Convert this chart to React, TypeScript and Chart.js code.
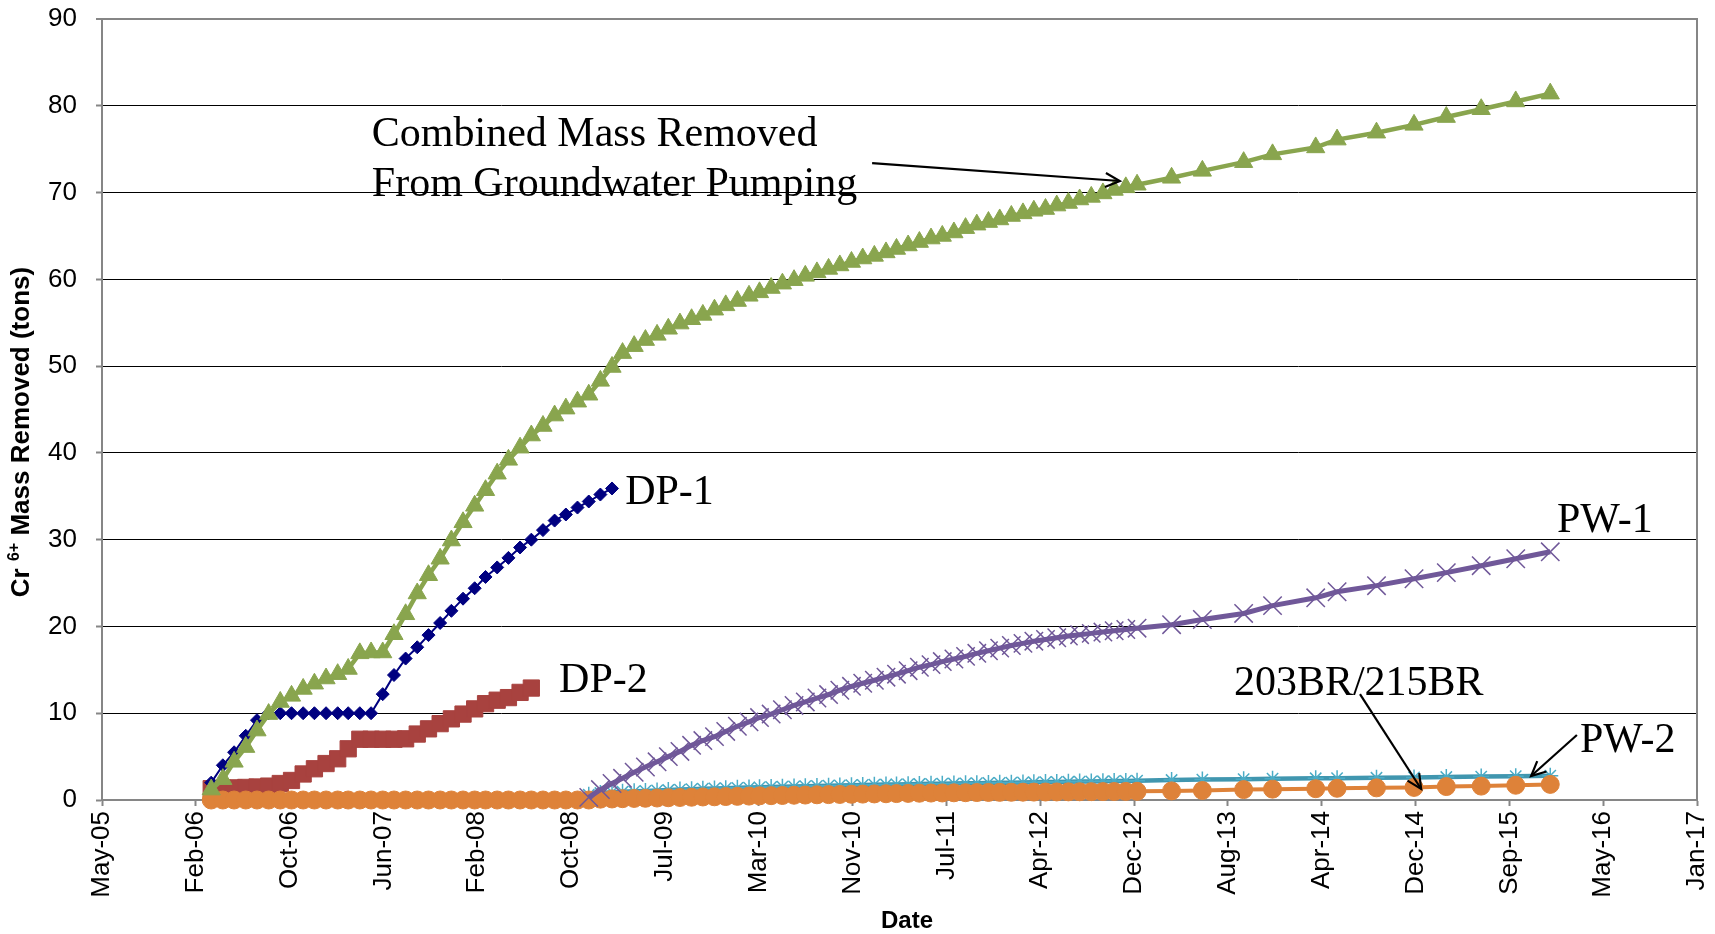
import React, { useEffect, useRef } from 'react';
import { Chart, registerables } from 'chart.js';

Chart.register(...registerables);

// ---------- axis definitions ----------
const X_TICK_LABELS = ['May-05', 'Feb-06', 'Oct-06', 'Jun-07', 'Feb-08', 'Oct-08', 'Jul-09', 'Mar-10', 'Nov-10', 'Jul-11', 'Apr-12', 'Dec-12', 'Aug-13', 'Apr-14', 'Dec-14', 'Sep-15', 'May-16', 'Jan-17'];
const X_MIN = 38500; // Excel date serial (28 May 2005)
const X_MAX = 42750;
const X_STEP = 250;
const Y_MIN = 0;
const Y_MAX = 90;
const Y_STEP = 10;

// ---------- dates (monthly readings are plotted mid-month) ----------
const MONTH_DAY = 15;
const MONTHS = [
  '2006-03', '2006-04', '2006-05', '2006-06', '2006-07', '2006-08', '2006-09', '2006-10', '2006-11', '2006-12',
  '2007-01', '2007-02', '2007-03', '2007-04', '2007-05', '2007-06', '2007-07', '2007-08', '2007-09', '2007-10', '2007-11', '2007-12',
  '2008-01', '2008-02', '2008-03', '2008-04', '2008-05', '2008-06', '2008-07', '2008-08', '2008-09', '2008-10', '2008-11', '2008-12',
  '2009-01', '2009-02', '2009-03', '2009-04', '2009-05', '2009-06', '2009-07', '2009-08', '2009-09', '2009-10', '2009-11', '2009-12',
  '2010-01', '2010-02', '2010-03', '2010-04', '2010-05', '2010-06', '2010-07', '2010-08', '2010-09', '2010-10', '2010-11', '2010-12',
  '2011-01', '2011-02', '2011-03', '2011-04', '2011-05', '2011-06', '2011-07', '2011-08', '2011-09', '2011-10', '2011-11', '2011-12',
  '2012-01', '2012-02', '2012-03', '2012-04', '2012-05', '2012-06', '2012-07', '2012-08', '2012-09', '2012-10', '2012-11', '2012-12',
];
const LATE_DATES = ['2013-03-17', '2013-06-07', '2013-09-25', '2013-12-11', '2014-04-05', '2014-06-01', '2014-09-14', '2014-12-23', '2015-03-19', '2015-06-20', '2015-09-20', '2015-12-21'];

// ---------- series values (tons) ----------
const DP1 = [2.0, 4.0, 5.5, 7.4, 9.2, 10.0, 10.0, 10.0, 10.0, 10.0, 10.0, 10.0, 10.0, 10.0, 10.0,
  12.2, 14.4, 16.3, 17.6, 19.0, 20.4, 21.8, 23.2, 24.4, 25.7, 26.8, 27.9, 29.1, 30.0, 31.1, 32.2, 32.9, 33.7, 34.4, 35.2, 35.9];

const DP2 = [1.3, 1.35, 1.4, 1.45, 1.5, 1.6, 1.9, 2.25, 3.0, 3.6, 4.2, 4.75, 5.9, 7.0, 7.0, 7.0, 7.0, 7.05,
  7.6, 8.2, 8.8, 9.35, 9.9, 10.5, 11.1, 11.5, 11.8, 12.4, 12.9];

const COMBINED = [
  1.2, 2.4, 4.4, 6.1, 8.0, 9.9, 11.3, 12.0, 12.8, 13.4,
  14.0, 14.5, 15.1, 16.9, 17.0, 17.0, 19.1, 21.4, 23.8, 25.9, 27.8, 29.9,
  32.0, 33.9, 35.7, 37.6, 39.2, 40.6, 42.0, 43.1, 44.3, 45.1, 45.9, 46.7,
  48.3, 49.9, 51.5, 52.3, 53.0, 53.6, 54.3, 54.9, 55.4, 55.9, 56.5, 57.0,
  57.5, 58.1, 58.5, 59.0, 59.5, 59.9, 60.4, 60.8, 61.2, 61.6, 62.0, 62.4,
  62.7, 63.1, 63.5, 63.9, 64.3, 64.7, 65.0, 65.4, 65.9, 66.3, 66.6, 66.9,
  67.3, 67.6, 67.9, 68.1, 68.5, 68.8, 69.2, 69.5, 69.9, 70.3, 70.6, 70.9,
];
const COMBINED_LATE = [71.7, 72.5, 73.5, 74.4, 75.2, 76.1, 76.9, 77.8, 78.7, 79.6, 80.5, 81.4];

const PW1_START = 33; // Dec-08
const PW1 = [
  0.3,
  1.2, 1.9, 2.5, 3.2, 3.8, 4.4, 5.0, 5.6, 6.3, 6.85, 7.3, 7.9,
  8.5, 9.0, 9.5, 9.9, 10.4, 10.9, 11.3, 11.75, 12.15, 12.65, 13.1, 13.45,
  13.8, 14.15, 14.5, 14.9, 15.3, 15.6, 15.95, 16.25, 16.55, 16.9, 17.2, 17.5,
  17.8, 18.05, 18.3, 18.5, 18.7, 18.9, 19.05, 19.2, 19.35, 19.5, 19.65, 19.8,
];
const PW1_LATE = [20.2, 20.8, 21.5, 22.4, 23.3, 24.0, 24.7, 25.5, 26.2, 27.0, 27.8, 28.6];

const PW2 = [
  0, 0, 0, 0, 0, 0, 0, 0, 0, 0,
  0, 0, 0, 0, 0, 0, 0, 0, 0, 0, 0, 0,
  0, 0, 0, 0, 0, 0, 0, 0, 0, 0, 0, 0.6,
  0.8, 0.9, 0.95, 1.0, 1.05, 1.1, 1.15, 1.2, 1.25, 1.3, 1.33, 1.36,
  1.4, 1.43, 1.46, 1.5, 1.53, 1.56, 1.59, 1.62, 1.65, 1.68, 1.71, 1.74,
  1.76, 1.78, 1.8, 1.82, 1.84, 1.86, 1.88, 1.9, 1.92, 1.94, 1.96, 1.98,
  2.0, 2.02, 2.04, 2.06, 2.08, 2.1, 2.12, 2.14, 2.16, 2.18, 2.2, 2.22,
];
const PW2_LATE = [2.3, 2.35, 2.4, 2.45, 2.5, 2.52, 2.56, 2.6, 2.65, 2.7, 2.75, 2.8];

const BR203 = [
  0, 0, 0, 0, 0, 0, 0, 0, 0, 0,
  0, 0, 0, 0, 0, 0, 0, 0, 0, 0, 0, 0,
  0, 0, 0, 0, 0, 0, 0, 0, 0, 0, 0, 0,
  0.1, 0.12, 0.15, 0.18, 0.2, 0.23, 0.26, 0.29, 0.32, 0.35, 0.37, 0.4,
  0.42, 0.45, 0.48, 0.5, 0.52, 0.55, 0.57, 0.6, 0.62, 0.64, 0.66, 0.68,
  0.7, 0.72, 0.74, 0.76, 0.78, 0.8, 0.81, 0.83, 0.84, 0.86, 0.87, 0.88,
  0.89, 0.9, 0.91, 0.92, 0.93, 0.94, 0.95, 0.96, 0.97, 0.98, 0.99, 1.0,
];
const BR203_LATE = [1.05, 1.1, 1.2, 1.25, 1.3, 1.35, 1.4, 1.45, 1.55, 1.6, 1.7, 1.8];

// ---------- annotations (in data units: x = Excel serial, y = tons) ----------
const LABELS = [
  { text: 'Combined Mass Removed', x: 39219, y: 75.36 },
  { text: 'From Groundwater Pumping', x: 39219, y: 69.6 },
  { text: 'DP-1', x: 39894, y: 34.1 },
  { text: 'DP-2', x: 39718, y: 12.45 },
  { text: 'PW-1', x: 42377, y: 30.88 },
  { text: '203BR/215BR', x: 41516, y: 12.1 },
  { text: 'PW-2', x: 42438, y: 5.53 },
];
const ARROWS = [
  { x1: 40552, y1: 73.4, x2: 41212, y2: 71.33 },
  { x1: 41852, y1: 12.21, x2: 42015, y2: 1.27 },
  { x1: 42430, y1: 7.49, x2: 42308, y2: 2.77 },
];

const SANS = '"Liberation Sans", Arial, sans-serif';
const SERIF = '"Liberation Serif", "Times New Roman", serif';
const AXIS_GRAY = '#868686';

function toSerial(s: string): number {
  const p = s.split('-').map(Number);
  return Date.UTC(p[0], p[1] - 1, p[2] || MONTH_DAY) / 86400000 + 25569;
}

function series(label: string, dates: string[], values: number[], color: string, style: any, radius: number, lineWidth: number, order: number, extra: any = {}) {
  return {
    label,
    data: dates.map((d, i) => ({ x: toSerial(d), y: values[i] })),
    borderColor: color,
    backgroundColor: color,
    borderWidth: lineWidth,
    pointStyle: style,
    pointRadius: radius,
    pointBackgroundColor: color,
    pointBorderColor: color,
    pointBorderWidth: 1,
    tension: 0,
    clip: false,
    order,
    ...extra,
  };
}

function drawArrow(ctx: CanvasRenderingContext2D, x1: number, y1: number, x2: number, y2: number) {
  ctx.beginPath();
  ctx.moveTo(x1, y1);
  ctx.lineTo(x2, y2);
  ctx.stroke();
  const ang = Math.atan2(y2 - y1, x2 - x1);
  const L = 16;
  const A = 0.45;
  ctx.beginPath();
  ctx.moveTo(x2 - L * Math.cos(ang - A), y2 - L * Math.sin(ang - A));
  ctx.lineTo(x2, y2);
  ctx.lineTo(x2 - L * Math.cos(ang + A), y2 - L * Math.sin(ang + A));
  ctx.stroke();
}

const decorPlugin = {
  id: 'decor',
  beforeDatasetsDraw(chart: any) {
    const { ctx, chartArea: a } = chart;
    ctx.save();
    ctx.strokeStyle = AXIS_GRAY;
    ctx.lineWidth = 2;
    ctx.beginPath();
    ctx.moveTo(a.left, a.top);
    ctx.lineTo(a.right, a.top);
    ctx.lineTo(a.right, a.bottom);
    ctx.stroke();
    ctx.restore();
  },
  afterDraw(chart: any) {
    const { ctx } = chart;
    const xs = chart.scales.x;
    const ys = chart.scales.y;
    ctx.save();
    ctx.fillStyle = '#000';
    ctx.strokeStyle = '#000';
    ctx.font = `42px ${SERIF}`;
    ctx.textAlign = 'left';
    ctx.textBaseline = 'alphabetic';
    LABELS.forEach((l) => {
      ctx.fillText(l.text, xs.getPixelForValue(l.x), ys.getPixelForValue(l.y));
    });
    ctx.lineWidth = 2.2;
    ARROWS.forEach((a) => {
      drawArrow(ctx, xs.getPixelForValue(a.x1), ys.getPixelForValue(a.y1), xs.getPixelForValue(a.x2), ys.getPixelForValue(a.y2));
    });
    ctx.font = `bold 24px ${SANS}`;
    ctx.textAlign = 'center';
    ctx.textBaseline = 'middle';
    ctx.fillText('Date', 907, 921);
    ctx.translate(22, 432);
    ctx.rotate(-Math.PI / 2);
    ctx.textAlign = 'left';
    ctx.textBaseline = 'middle';
    const parts = [
      { t: 'Cr ', f: `bold 26px ${SANS}`, dy: 0, w: 0 },
      { t: '6+', f: `bold 16px ${SANS}`, dy: -7, w: 0 },
      { t: ' Mass Removed (tons)', f: `bold 26px ${SANS}`, dy: 0, w: 0 },
    ];
    let total = 0;
    parts.forEach((p) => { ctx.font = p.f; p.w = ctx.measureText(p.t).width; total += p.w; });
    let x = -total / 2;
    parts.forEach((p) => { ctx.font = p.f; ctx.fillText(p.t, x, p.dy); x += p.w; });
    ctx.restore();
  },
};

export default function App() {
  const ref = useRef<HTMLCanvasElement>(null);
  useEffect(() => {
    document.body.style.margin = '0';
    const allDates = MONTHS.concat(LATE_DATES);
    const datasets: any[] = [
      series('Combined Mass Removed', allDates, COMBINED.concat(COMBINED_LATE), '#89A54E', 'triangle', 10.5, 4.5, 0),
      series('PW-1', MONTHS.slice(PW1_START).concat(LATE_DATES), PW1.concat(PW1_LATE), '#705899', 'crossRot', 13, 5, 1, { pointBorderWidth: 1.5 }),
      series('203BR/215BR', allDates, BR203.concat(BR203_LATE), '#DE8239', 'circle', 9, 4, 2),
      series('PW-2', allDates, PW2.concat(PW2_LATE), '#4096AF', 'star', 8, 4.5, 3, { pointBorderColor: '#4BACC6', pointBackgroundColor: '#4BACC6', pointBorderWidth: 1.5 }),
      series('DP-1', MONTHS.slice(0, DP1.length), DP1, '#000080', 'rectRot', 6.5, 2, 4),
      series('DP-2', MONTHS.slice(0, DP2.length), DP2, '#A8423F', 'rect', 11.5, 3, 5),
    ];
    const tickFont = { family: SANS, size: 26 };
    const chart = new Chart(ref.current as HTMLCanvasElement, {
      type: 'line',
      data: { datasets },
      options: {
        responsive: false,
        devicePixelRatio: 1,
        animation: false,
        events: [],
        layout: { padding: { top: 19, right: 18, left: 0, bottom: 0 } },
        plugins: { legend: { display: false }, tooltip: { enabled: false } },
        scales: {
          x: {
            type: 'linear',
            min: X_MIN,
            max: X_MAX,
            afterFit: (s: any) => { s.height = 134; s.paddingLeft = 0; s.paddingRight = 0; },
            ticks: {
              stepSize: X_STEP,
              autoSkip: false,
              maxRotation: 90,
              minRotation: 90,
              padding: 5,
              color: '#000',
              font: tickFont,
              callback: (_v: any, i: number) => X_TICK_LABELS[i] ?? '',
            },
            grid: { drawOnChartArea: false, drawTicks: true, tickLength: 6, tickColor: AXIS_GRAY, tickWidth: 2 },
            border: { color: AXIS_GRAY, width: 2 },
          },
          y: {
            min: Y_MIN,
            max: Y_MAX,
            afterFit: (s: any) => { s.width = 102; s.paddingTop = 0; s.paddingBottom = 0; },
            ticks: { stepSize: Y_STEP, padding: 19, color: '#000', font: tickFont },
            grid: {
              color: (c: any) => (c.tick && c.tick.value === 0 ? 'rgba(0,0,0,0)' : c.tick && c.tick.value === Y_MAX ? AXIS_GRAY : '#000'),
              lineWidth: (c: any) => (c.tick && c.tick.value === Y_MAX ? 2 : 1),
              tickLength: 6,
              tickColor: AXIS_GRAY,
              tickWidth: 2,
            },
            border: { color: AXIS_GRAY, width: 2 },
          },
        },
      },
      plugins: [decorPlugin],
    } as any);
    return () => chart.destroy();
  }, []);
  return (
    <div style={{ position: 'absolute', left: 0, top: 0, width: 1715, height: 934, background: '#fff' }}>
      <canvas ref={ref} width={1715} height={934} style={{ display: 'block' }} />
    </div>
  );
}
